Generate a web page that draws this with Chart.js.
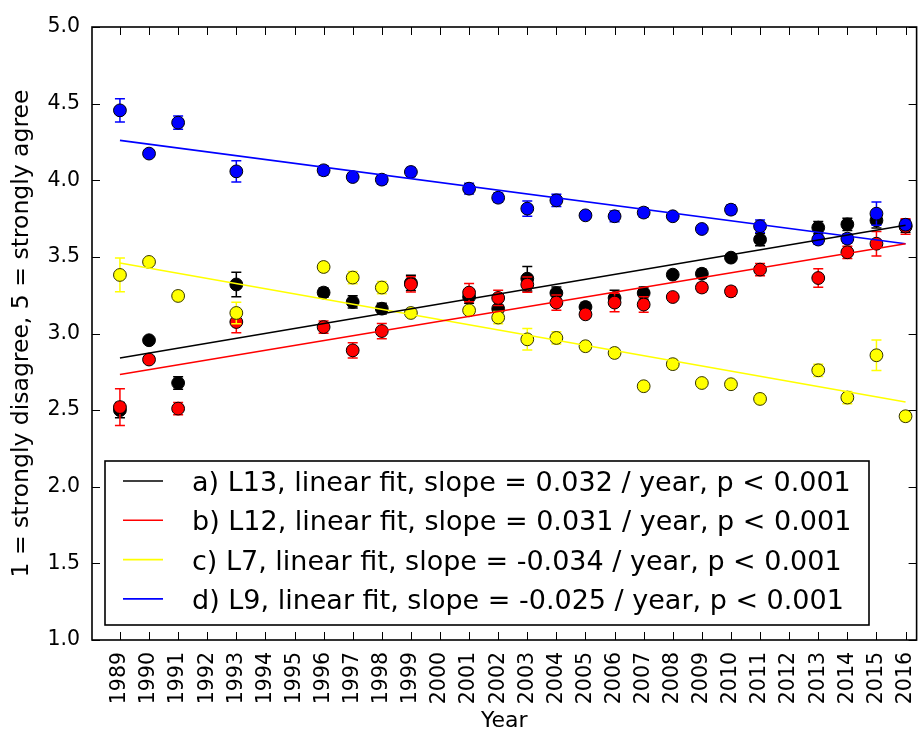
<!DOCTYPE html>
<html><head><meta charset="utf-8">
<script src="https://cdn.jsdelivr.net/npm/chart.js@4/dist/chart.umd.min.js"></script>
<style>html,body{margin:0;padding:0;background:#fff;} #wrap{width:924px;height:734px;position:relative;}</style>
</head><body><div id="wrap"><canvas id="c" width="924" height="734"></canvas></div>
<script>
// ---- data ----
const years = [1989,1990,1991,1993,1996,1997,1998,1999,2001,2002,2003,2004,2005,2006,2007,2008,2009,2010,2011,2013,2014,2015,2016];
const xTickYears = [1989,1990,1991,1992,1993,1994,1995,1996,1997,1998,1999,2000,2001,2002,2003,2004,2005,2006,2007,2008,2009,2010,2011,2012,2013,2014,2015,2016];
const yTickValues = [1.0,1.5,2.0,2.5,3.0,3.5,4.0,4.5,5.0];

const seriesL13 = [2.50,2.956,2.677,3.32,3.267,3.206,3.162,3.33,3.238,3.162,3.358,3.264,3.173,3.232,3.264,3.384,3.39,3.495,3.613,3.691,3.712,3.738,3.70];
const errL13    = [0.05,0.015,0.04,0.08,0.03,0.04,0.035,0.05,0.04,0.05,0.08,0.04,0.03,0.05,0.04,0.02,0.03,0.02,0.04,0.04,0.04,0.05,0.04];
const seriesL12 = [2.52,2.83,2.51,3.075,3.042,2.89,3.016,3.321,3.267,3.232,3.319,3.202,3.125,3.202,3.189,3.238,3.30,3.275,3.417,3.362,3.53,3.586,3.698];
const errL12    = [0.12,0.02,0.04,0.07,0.04,0.05,0.05,0.05,0.06,0.05,0.05,0.05,0.02,0.06,0.05,0.02,0.03,0.03,0.04,0.06,0.04,0.08,0.05];
const seriesL7  = [3.382,3.467,3.245,3.134,3.434,3.365,3.30,3.134,3.151,3.104,2.962,2.971,2.917,2.873,2.656,2.80,2.677,2.669,2.573,2.76,2.582,2.858,2.46];
const errL7     = [0.11,0.02,0.03,0.07,0.03,0.04,0.04,0.02,0.02,0.04,0.07,0.04,0.02,0.02,0.02,0.03,0.02,0.02,0.03,0.04,0.04,0.10,0.03];
const seriesL9  = [4.456,4.174,4.376,4.058,4.065,4.021,4.004,4.054,3.945,3.886,3.815,3.869,3.771,3.765,3.789,3.765,3.682,3.808,3.70,3.613,3.619,3.782,3.71];
const errL9     = [0.076,0.02,0.043,0.07,0.03,0.025,0.03,0.03,0.035,0.03,0.05,0.04,0.02,0.035,0.03,0.02,0.025,0.03,0.04,0.03,0.03,0.076,0.03];

const fitYears = [1989, 2016];
const fitL13 = [2.84, 3.706];
const fitL12 = [2.732, 3.586];
const fitL7  = [3.46, 2.553];
const fitL9  = [4.26, 3.586];

const legendLabels = [
  'a) L13, linear fit, slope = 0.032 / year, p < 0.001',
  'b) L12, linear fit, slope = 0.031 / year, p < 0.001',
  'c) L7, linear fit, slope = -0.034 / year, p < 0.001',
  'd) L9, linear fit, slope = -0.025 / year, p < 0.001'
];
const colors = ['#000000', '#ff0000', '#ffff00', '#0000ff'];
const xTitle = 'Year';
const yTitle = '1 = strongly disagree, 5 = strongly agree';

// ---- build ----
const pts = (xs, ys) => xs.map((x, i) => ({x: x, y: ys[i]}));
const allSeries = [seriesL13, seriesL12, seriesL7, seriesL9];
const allErr = [errL13, errL12, errL7, errL9];
const allFit = [fitL13, fitL12, fitL7, fitL9];

const datasets = [];
allFit.forEach((f, k) => {
  datasets.push({
    type: 'line', label: legendLabels[k], data: pts(fitYears, f),
    borderColor: colors[k], borderWidth: 1.6, pointRadius: 0, fill: false, showLine: true,
    order: 0, tension: 0
  });
});
allSeries.forEach((s, k) => {
  datasets.push({
    type: 'scatter', label: 'pts' + k, data: pts(years, s), errors: allErr[k], errColor: colors[k],
    backgroundColor: colors[k], borderColor: k === 2 ? '#333300' : '#000000', borderWidth: 1,
    pointRadius: 6.4, pointHoverRadius: 6.4, showLine: false, order: 4 - k
  });
});

const FONT = 'DejaVu Sans';

const errorBarPlugin = {
  id: 'errbars',
  beforeDatasetDraw(chart, args) {
    const ds = chart.data.datasets[args.index];
    if (!ds.errors) return;
    const xs = chart.scales.x, ys = chart.scales.y, ctx = chart.ctx;
    ctx.save();
    ctx.strokeStyle = ds.errColor; ctx.lineWidth = 1.5;
    ds.data.forEach((p, i) => {
      const e = ds.errors[i];
      const px = xs.getPixelForValue(p.x);
      const t = ys.getPixelForValue(p.y + e), b = ys.getPixelForValue(p.y - e);
      ctx.beginPath();
      ctx.moveTo(px, t); ctx.lineTo(px, b);
      ctx.moveTo(px - 5, t); ctx.lineTo(px + 5, t);
      ctx.moveTo(px - 5, b); ctx.lineTo(px + 5, b);
      ctx.stroke();
    });
    ctx.restore();
  }
};

const framePlugin = {
  id: 'frame',
  afterDraw(chart) {
    const {ctx, chartArea: ca, scales} = chart;
    ctx.save();
    ctx.strokeStyle = '#000'; ctx.lineWidth = 1;
    ctx.beginPath();
    scales.x.ticks.forEach(t => {
      const px = Math.round(scales.x.getPixelForValue(t.value)) + 0.5;
      ctx.moveTo(px, ca.bottom); ctx.lineTo(px, ca.bottom - 8);
      ctx.moveTo(px, ca.top); ctx.lineTo(px, ca.top + 8);
    });
    scales.y.ticks.forEach(t => {
      const py = Math.round(scales.y.getPixelForValue(t.value)) + 0.5;
      ctx.moveTo(ca.left, py); ctx.lineTo(ca.left + 8, py);
      ctx.moveTo(ca.right, py); ctx.lineTo(ca.right - 8, py);
    });
    ctx.stroke();
    ctx.lineWidth = 1.6;
    ctx.strokeRect(ca.left, ca.top, ca.right - ca.left, ca.bottom - ca.top);

    // legend box
    const bx = ca.left + 13, bw = 764, bh = 164, by = ca.bottom - 15 - bh;
    ctx.fillStyle = '#fff';
    ctx.fillRect(bx, by, bw, bh);
    ctx.lineWidth = 1.6;
    ctx.strokeRect(bx, by, bw, bh);
    ctx.font = '27px "' + FONT + '"';
    ctx.textBaseline = 'alphabetic';
    ctx.textAlign = 'left';
    legendLabels.forEach((lab, i) => {
      const ry = by + 20 + i * 39.3;
      ctx.strokeStyle = colors[i]; ctx.lineWidth = 1.6;
      ctx.beginPath(); ctx.moveTo(bx + 18, ry); ctx.lineTo(bx + 58, ry); ctx.stroke();
      ctx.fillStyle = '#000';
      ctx.fillText(lab, bx + 87, ry + 10);
    });
    ctx.restore();
  }
};

new Chart(document.getElementById('c'), {
  type: 'scatter',
  data: { datasets },
  options: {
    responsive: false, animation: false, devicePixelRatio: 1,
    layout: { padding: { top: 27, right: 0, left: 0, bottom: 0 } },
    plugins: { legend: { display: false }, tooltip: { enabled: false } },
    scales: {
      x: {
        type: 'linear', min: 1988.04, max: 2016.38,
        afterBuildTicks: s => { s.ticks = xTickYears.map(v => ({value: v})); },
        ticks: { autoSkip: false, minRotation: 90, maxRotation: 90, padding: 12,
                 font: { family: FONT, size: 20.5 }, color: '#000', callback: v => String(v) },
        grid: { display: false, drawTicks: false }, border: { display: false },
        title: { display: true, text: xTitle, color: '#000', font: { family: FONT, size: 22 }, padding: { top: 0, bottom: 0 } },
        afterFit: s => { s.height = 94; s.paddingLeft = 0; s.paddingRight = 0; }
      },
      y: {
        min: 1, max: 5,
        afterBuildTicks: s => { s.ticks = yTickValues.map(v => ({value: v})); },
        ticks: { padding: 12, font: { family: FONT, size: 20.5 }, color: '#000', callback: v => Number(v).toFixed(1) },
        grid: { display: false, drawTicks: false }, border: { display: false },
        title: { display: true, text: yTitle, color: '#000', font: { family: FONT, size: 23.5 }, padding: { top: 8, bottom: 0 } },
        afterFit: s => { s.width = 92; s.paddingTop = 0; s.paddingBottom = 0; }
      }
    }
  },
  plugins: [errorBarPlugin, framePlugin]
});
</script>
</body></html>
